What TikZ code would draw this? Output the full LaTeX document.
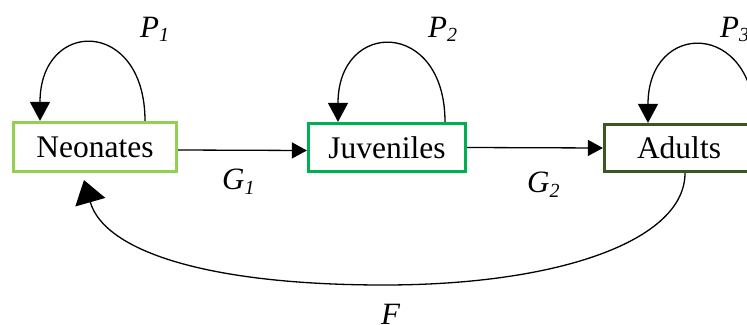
\documentclass[tikz,border=0pt]{standalone}
\usepackage{fontspec}
\setmainfont{Liberation Serif}
\usetikzlibrary{arrows.meta}
\definecolor{neoc}{HTML}{92D050}
\definecolor{juvc}{HTML}{00B050}
\definecolor{aduc}{HTML}{385723}
\tikzset{
  stage/.style={draw, line width=3.2pt, fill=white, inner sep=0pt,
    font=\fontsize{31.5}{36}\selectfont},
  conn/.style={line width=1.3pt},
  harr/.style={conn, -{Triangle[length=15pt,width=16pt]}},
  larr/.style={conn, -{Triangle[length=19pt,width=20pt]}},
  farr/.style={conn, -{Triangle[length=23pt,width=31pt]}},
  lbl/.style={inner sep=0pt, anchor=base west, font=\fontsize{31}{36}\selectfont}
}
\newcommand{\lblsub}[2]{\textit{#1}\raisebox{-5pt}{\fontsize{20}{20}\selectfont\textit{#2}}}
\begin{document}
\begin{tikzpicture}[x=1pt,y=-1pt]
\useasboundingbox (0,0) rectangle (747,324);
\node[stage, draw=neoc, minimum width=163pt, minimum height=49pt] (neo) at (95,147) {Neonates};
\node[stage, draw=juvc, minimum width=157pt, minimum height=48pt] (juv) at (387,147.5) {Juveniles};
\node[stage, draw=aduc, minimum width=149pt, minimum height=47pt] (adu) at (679,148) {Adults};
% transitions
\draw[harr] ([yshift=-3pt]neo.east) -- ([yshift=-3pt]juv.west);
\draw[harr] (juv.east) -- (adu.west);
% self loops
\draw[larr] ([xshift=50pt]neo.north) .. controls +(0,-103) and +(0,-103) .. ([xshift=-55pt]neo.north);
\draw[larr] ([xshift=58pt]juv.north) .. controls +(0,-103) and +(0,-103) .. ([xshift=-49pt]juv.north);
\draw[larr] ([xshift=76pt]adu.south |- adu.north) .. controls +(0,-103) and +(0,-103) .. ([xshift=-31pt]adu.north);
% fecundity
\coordinate (fbot) at (384,285);
\coordinate (ftip) at ([shift={(-11pt,-7pt)}]neo.south);
\draw[farr] ([xshift=6pt]adu.south) .. controls +(0,67) and +(176,0) .. (fbot)
  .. controls +(-180,0) and +(20,70) .. (ftip);
% labels
\node[lbl] (p1) at (140,37) {\lblsub{P}{1}};
\node[lbl] (p2) at (428,37) {\lblsub{P}{2}};
\node[lbl] (p3) at (720,37) {\lblsub{P}{3}};
\node[lbl] (g1) at (222,189) {\lblsub{G}{1}};
\node[lbl] (g2) at (527,192) {\lblsub{G}{2}};
\node[lbl] (f) at (381,324) {\textit{F}};
\end{tikzpicture}
\end{document}
